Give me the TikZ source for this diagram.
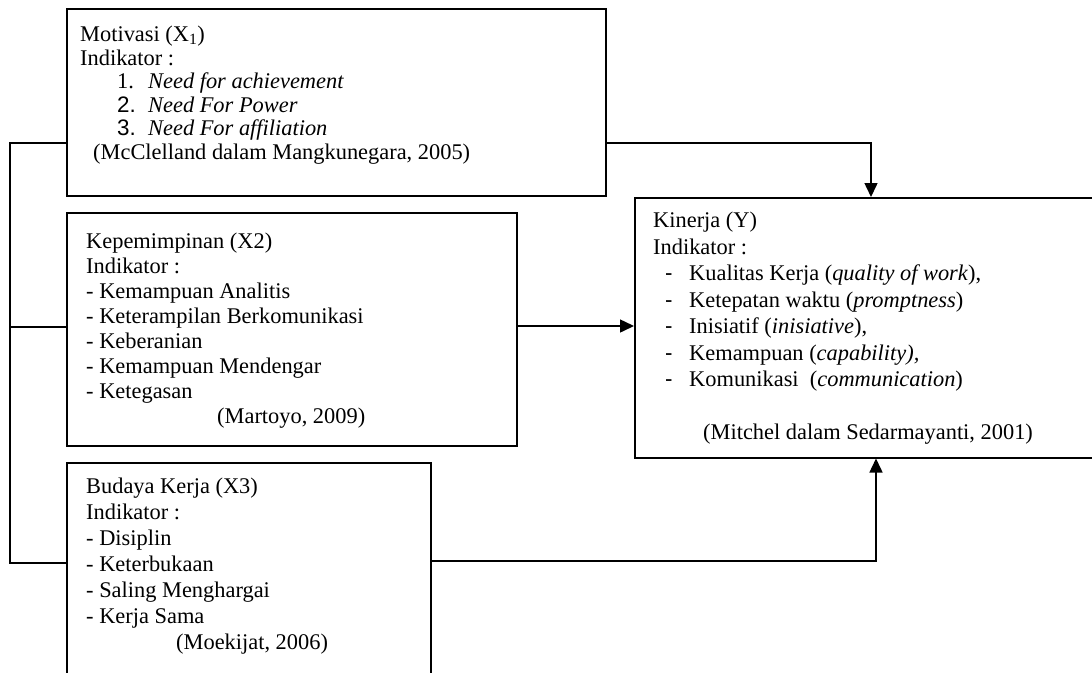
\documentclass[tikz,border=0pt]{standalone}
\usepackage{fontspec}
\setmainfont{Liberation Serif}
\newfontfamily\arialf{Liberation Sans}
\usetikzlibrary{arrows.meta}
\tikzset{
  box/.style={draw, line width=1.5pt, rectangle, inner sep=0pt, anchor=north west},
  txt/.style={anchor=north west, inner sep=0pt, align=left},
  conn/.style={line width=1.5pt},
  arr/.style={conn, -{Triangle[length=14pt,width=13pt]}},
}
\newcommand{\itm}[2]{\makebox[37pt][l]{}\makebox[31pt][l]{#1}#2}
\newcommand{\dsh}[1]{\makebox[12pt][l]{}\makebox[24pt][l]{\arialf -}#1}
\begin{document}
\begin{tikzpicture}[x=1pt,y=-1pt]
\useasboundingbox (0,0) rectangle (1092,672);
\clip (0,0) rectangle (1092,672);
\fill[white] (0,0) rectangle (1092,672);
% boxes
\node[box, minimum width=539pt, minimum height=187pt] (x1) at (66,8) {};
\node[box, minimum width=450pt, minimum height=233pt] (x2) at (66,212) {};
\node[box, minimum width=364pt, minimum height=240pt] (x3) at (66,462) {};
\node[box, minimum width=500pt, minimum height=260pt] (y) at (634,197) {};
% texts
\node[txt, font=\fontsize{22.4}{23.5}\selectfont] (x1t) at (80,26) {Motivasi (X\textsubscript{1})\\
Indikator :\\
\itm{1.}{\textit{Need for achievement}}\\
\itm{\arialf 2.}{\textit{Need For Power}}\\
\itm{\arialf 3.}{\textit{Need For affiliation}}\\
\hspace*{13pt}(McClelland dalam Mangkunegara, 2005)};
\node[txt, font=\fontsize{22.4}{25}\selectfont] (x2t) at (86,233) {Kepemimpinan (X2)\\
Indikator :\\
- Kemampuan Analitis\\
- Keterampilan Berkomunikasi\\
- Keberanian\\
- Kemampuan Mendengar\\
- Ketegasan\\
\hspace*{131pt}(Martoyo, 2009)};
\node[txt, font=\fontsize{22.4}{26}\selectfont] (x3t) at (86,478) {Budaya Kerja (X3)\\
Indikator :\\
- Disiplin\\
- Keterbukaan\\
- Saling Menghargai\\
- Kerja Sama\\
\hspace*{90pt}(Moekijat, 2006)};
\node[txt, font=\fontsize{22.4}{26.5}\selectfont] (yt) at (653,212) {Kinerja (Y)\\
Indikator :\\
\dsh{Kualitas Kerja (\textit{quality of work}),}\\
\dsh{Ketepatan waktu (\textit{promptness})}\\
\dsh{Inisiatif (\textit{inisiative}),}\\
\dsh{Kemampuan (\textit{capability),}}\\
\dsh{Komunikasi\ \ (\textit{communication})}\\[26.5pt]
\hspace*{50pt}(Mitchel dalam Sedarmayanti, 2001)};
% connectors
\coordinate (bt) at (10,143);
\coordinate (bm) at (10,327);
\coordinate (bb) at (10,563);
\coordinate (c1) at (871,143);
\coordinate (c3) at (876,561);
\draw[conn] (x1.west |- bt) -- (bt) -- (bb) -- (x3.west |- bb);
\draw[conn] (bm) -- (x2.west |- bm);
\draw[arr] (x1.east |- c1) -- (c1) -- (c1 |- y.north);
\draw[arr] (x2.east |- 0,326) -- (y.west |- 0,326);
\draw[arr] (x3.east |- c3) -- (c3) -- (c3 |- y.south);
\end{tikzpicture}
\end{document}
